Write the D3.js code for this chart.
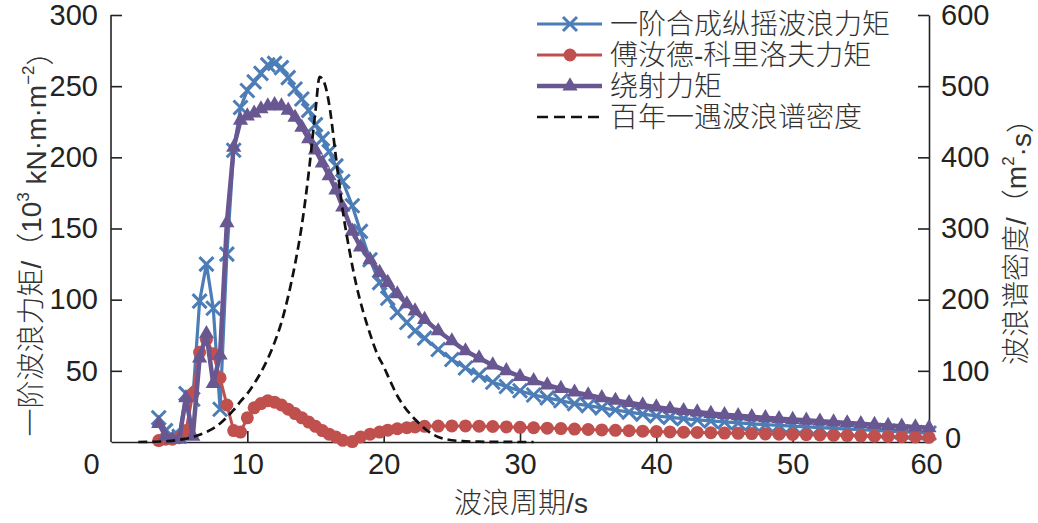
<!DOCTYPE html>
<html>
<head>
<meta charset="utf-8">
<script src="https://cdn.jsdelivr.net/npm/d3@7"></script>
<style>
  html, body { margin: 0; padding: 0; background: #fff; }
  svg { display: block; }
</style>
</head>
<body>
<div id="chart"></div>
<script>
// wave period (s), shared by the three moment series
const periods = [3.5, 4, 4.5, 5, 5.5, 6, 6.5, 7, 7.5, 8, 8.5, 9, 9.5, 10, 10.5, 11, 11.5, 12, 12.5, 13,
  13.5, 14, 14.5, 15, 15.5, 16, 16.5, 17, 17.7, 18.3, 19, 19.7, 20.3, 21, 21.7, 22.3, 23,
  24, 25, 26, 27, 28, 29, 30, 31, 32, 33, 34, 35, 36, 37, 38, 39, 40, 41, 42, 43, 44, 45,
  46, 47, 48, 49, 50, 51, 52, 53, 54, 55, 56, 57, 58, 59, 60];

// 一阶合成纵摇波浪力矩 (10^3 kN·m·m^-2)
const totalMoment = [17, 8, 4, 4, 34, 30, 99, 125, 94, 23, 132, 205, 235, 247, 253, 259, 265, 266, 263, 256,
  248, 241, 233, 223, 213, 204, 194, 183, 166, 148, 128, 112, 101, 91, 84, 78, 73,
  65, 58, 52, 47, 42, 39, 36, 33, 31, 29, 27, 25.5, 24, 22.5, 21, 19.6, 18.3, 17.3, 16.4, 15.6, 14.8, 14.1,
  13.4, 12.8, 12.2, 11.7, 11.2, 10.6, 10.1, 9.6, 9.1, 8.6, 8.1, 7.6, 7.1, 6.7, 6.3];

// 傅汝德-科里洛夫力矩
const fkMoment = [1, 2, 2, 3, 8, 34, 63, 72, 62, 45, 26, 8, 7, 17, 24, 27, 29, 28, 26, 23,
  20, 17, 14, 11, 8, 5.5, 3.5, 1.2, 0.3, 3.5, 5.5, 7, 8.3, 9.3, 10, 10.6, 11,
  11.2, 11.3, 11.3, 11.1, 10.9, 10.6, 10.3, 10, 9.7, 9.4, 9.1, 8.8, 8.5, 8.2, 7.9, 7.6, 7.3, 7.1, 6.9, 6.7, 6.5, 6.3,
  6.1, 5.9, 5.7, 5.5, 5.3, 5.1, 4.9, 4.7, 4.5, 4.3, 4.1, 3.9, 3.7, 3.5, 3.3];

// 绕射力矩
const diffMoment = [13, 4, 2, 2, 31, 4, 59, 76, 41, 61, 154, 207, 226, 229, 231, 234, 236, 237, 236, 233,
  228, 221, 213, 205, 196, 187, 177, 165, 148, 137, 128, 119, 112, 104, 97, 92, 86,
  78, 71, 64, 59, 54, 50, 46, 43, 40, 37.5, 35, 33, 31, 29.2, 27.6, 26, 24.5, 23.2, 22, 21, 20, 19.2,
  18.4, 17.7, 17, 16.4, 15.8, 15.2, 14.6, 14, 13.4, 12.8, 12.2, 11.6, 11, 10.5, 10];

// 百年一遇波浪谱密度 (m^2·s), right axis
const specPeriods = [2, 3, 4, 5, 6, 7, 7.5, 8, 8.5, 9, 9.5, 10, 10.5, 11, 11.5, 12, 12.5, 13, 13.5, 14,
  14.5, 15, 15.3, 15.6, 16, 16.5, 17, 17.5, 18, 18.5, 19, 19.5, 20, 20.5, 21, 21.5, 22, 22.5, 23, 23.5,
  24, 25, 26, 27, 28, 29, 30, 31];
const specDensity = [0, 0.3, 1, 3, 7, 14, 19, 26, 35, 45, 57, 68, 82, 98, 117, 140, 168, 205, 250, 305,
  378, 466, 513, 507, 475, 400, 325, 268, 220, 183, 152, 125, 106, 85, 65, 50, 38, 28, 19, 12,
  7, 2.5, 1, 0.4, 0.2, 0.1, 0, 0];

const xTicks = [0, 10, 20, 30, 40, 50, 60];
const leftTicks = [50, 100, 150, 200, 250, 300];
const rightTicks = [0, 100, 200, 300, 400, 500, 600];
const legendLabels = ['一阶合成纵摇波浪力矩', '傅汝德-科里洛夫力矩', '绕射力矩', '百年一遇波浪谱密度'];

const W = 1038, H = 523;
const NUM_FONT = '"Liberation Sans", Arial, Helvetica, sans-serif';
const CJK_FONT = '"Liberation Sans", "Noto Sans CJK SC", sans-serif';
const COLORS = { blue: '#4c7db7', red: '#c0504d', purple: '#685791', axis: '#222', text: '#333' };

const svg = d3.select('#chart').append('svg')
  .attr('width', W).attr('height', H)
  .attr('viewBox', `0 0 ${W} ${H}`);

const x = d3.scaleLinear().domain([0, 60]).range([111, 929]);
const yL = d3.scaleLinear().domain([0, 300]).range([442, 15]);
const yR = d3.scaleLinear().domain([0, 600]).range([442, 15]);

// X marker as a stroked cross
const symbolXMark = {
  draw(ctx, size) {
    const r = Math.sqrt(size) / 2;
    ctx.moveTo(-r, -r); ctx.lineTo(r, r);
    ctx.moveTo(r, -r); ctx.lineTo(-r, r);
  }
};

function styleAxis(g) {
  g.select('.domain').attr('stroke', COLORS.axis).attr('stroke-width', 1.6);
  g.selectAll('.tick line').attr('stroke', COLORS.axis).attr('stroke-width', 1.6);
  g.selectAll('.tick text')
    .attr('fill', COLORS.axis)
    .style('font-family', NUM_FONT)
    .style('font-size', '29px');
}

// Axes
const xAxis = svg.append('g')
  .attr('transform', `translate(0,${yL(0)})`)
  .call(d3.axisBottom(x).tickValues(xTicks).tickSize(-11).tickSizeOuter(0).tickPadding(11))
  .call(styleAxis);
xAxis.selectAll('.tick').filter(d => d === 0 || d === 60).select('line').remove();
xAxis.selectAll('.tick').filter(d => d === 0).select('text').attr('x', -20);
xAxis.selectAll('.tick').filter(d => d === 60).select('text').attr('x', -3);

svg.append('g')
  .attr('transform', `translate(${x(0)},0)`)
  .call(d3.axisLeft(yL).tickValues(leftTicks).tickSize(-11).tickSizeOuter(0).tickPadding(13))
  .call(styleAxis)
  .call(g => g.select('.domain').attr('d', `M0,${yL(300)}V${yL(0)}`));

const rAxis = svg.append('g')
  .attr('transform', `translate(${x(60)},0)`)
  .call(d3.axisRight(yR).tickValues(rightTicks).tickSize(-11).tickSizeOuter(0).tickPadding(12))
  .call(styleAxis);
rAxis.selectAll('.tick').filter(d => d === 0).select('line').remove();
rAxis.selectAll('.tick').filter(d => d === 0).select('text').attr('x', 16).attr('dy', '0.2em');

// Series
const series = [
  { values: totalMoment, color: COLORS.blue, width: 3.2, marker: 'x' },
  { values: fkMoment, color: COLORS.red, width: 3, marker: 'circle' },
  { values: diffMoment, color: COLORS.purple, width: 4.5, marker: 'triangle' }
];

const line = d3.line().x(d => x(d[0])).y(d => yL(d[1]));
const plot = svg.append('g');

function drawMarkers(g, pts, s, px, py) {
  if (s.marker === 'circle') {
    g.selectAll('circle').data(pts).join('circle')
      .attr('cx', px).attr('cy', py).attr('r', 6.5)
      .attr('fill', s.color);
  } else if (s.marker === 'triangle') {
    g.selectAll('path').data(pts).join('path')
      .attr('transform', d => `translate(${px(d)},${py(d)})`)
      .attr('d', d3.symbol(d3.symbolTriangle, 100)())
      .attr('fill', s.color);
  } else {
    g.selectAll('path').data(pts).join('path')
      .attr('transform', d => `translate(${px(d)},${py(d)})`)
      .attr('d', d3.symbol(symbolXMark, 196)())
      .attr('fill', 'none')
      .attr('stroke', s.color)
      .attr('stroke-width', 3);
  }
}

series.forEach(s => {
  const pts = periods.map((p, i) => [p, s.values[i]]);
  const g = plot.append('g');
  g.append('path')
    .datum(pts)
    .attr('d', line)
    .attr('fill', 'none')
    .attr('stroke', s.color)
    .attr('stroke-width', s.width)
    .attr('stroke-linejoin', 'round');
  drawMarkers(g.append('g'), pts, s, d => x(d[0]), d => yL(d[1]));
});

// Wave spectrum (right axis)
const specLine = d3.line()
  .x(d => x(d[0]))
  .y(d => yR(d[1]))
  .curve(d3.curveMonotoneX);

plot.append('path')
  .datum(specPeriods.map((p, i) => [p, specDensity[i]]))
  .attr('d', specLine)
  .attr('fill', 'none')
  .attr('stroke', '#111')
  .attr('stroke-width', 2.7)
  .attr('stroke-dasharray', '9,5');

// Legend
const legend = svg.append('g').attr('transform', 'translate(537,24)');
const legendRow = 31;
legendLabels.forEach((label, i) => {
  const row = legend.append('g').attr('transform', `translate(0,${i * legendRow})`);
  if (i < 3) {
    const s = series[i];
    row.append('line')
      .attr('x1', 0).attr('x2', 65).attr('y1', 0).attr('y2', 0)
      .attr('stroke', s.color).attr('stroke-width', s.width);
    drawMarkers(row.append('g'), [[0, 0]], s, () => 33, () => 0);
  } else {
    row.append('line')
      .attr('x1', 0).attr('x2', 62).attr('y1', 0).attr('y2', 0)
      .attr('stroke', '#111').attr('stroke-width', 2.7)
      .attr('stroke-dasharray', '11,6');
  }
  row.append('text')
    .attr('x', 73).attr('y', 0)
    .attr('dominant-baseline', 'central')
    .attr('fill', COLORS.text)
    .style('font-family', CJK_FONT)
    .style('font-weight', 300)
    .style('font-size', '28px')
    .text(label);
});

// Axis titles
function titleText(tx, ty, rotate) {
  return svg.append('text')
    .attr('transform', `translate(${tx},${ty})` + (rotate ? ' rotate(-90)' : ''))
    .attr('text-anchor', 'middle')
    .attr('dominant-baseline', 'central')
    .attr('fill', COLORS.text)
    .style('font-family', CJK_FONT)
    .style('font-weight', 300)
    .style('font-size', '28px');
}

titleText(521, 503, false).text('波浪周期/s');

const lt = titleText(31, 237, true);
lt.append('tspan').text('一阶波浪力矩/（10');
lt.append('tspan').attr('dy', '-0.45em').style('font-size', '17px').text('3');
lt.append('tspan').attr('dy', '0.45em').text(' kN·m·m');
lt.append('tspan').attr('dy', '-0.45em').style('font-size', '17px').text('−2');
lt.append('tspan').attr('dy', '0.45em').text('）');

const rt = titleText(1016, 235, true);
rt.append('tspan').text('波浪谱密度/（m');
rt.append('tspan').attr('dy', '-0.45em').style('font-size', '17px').text('2');
rt.append('tspan').attr('dy', '0.45em').text('·s）');
</script>
</body>
</html>
